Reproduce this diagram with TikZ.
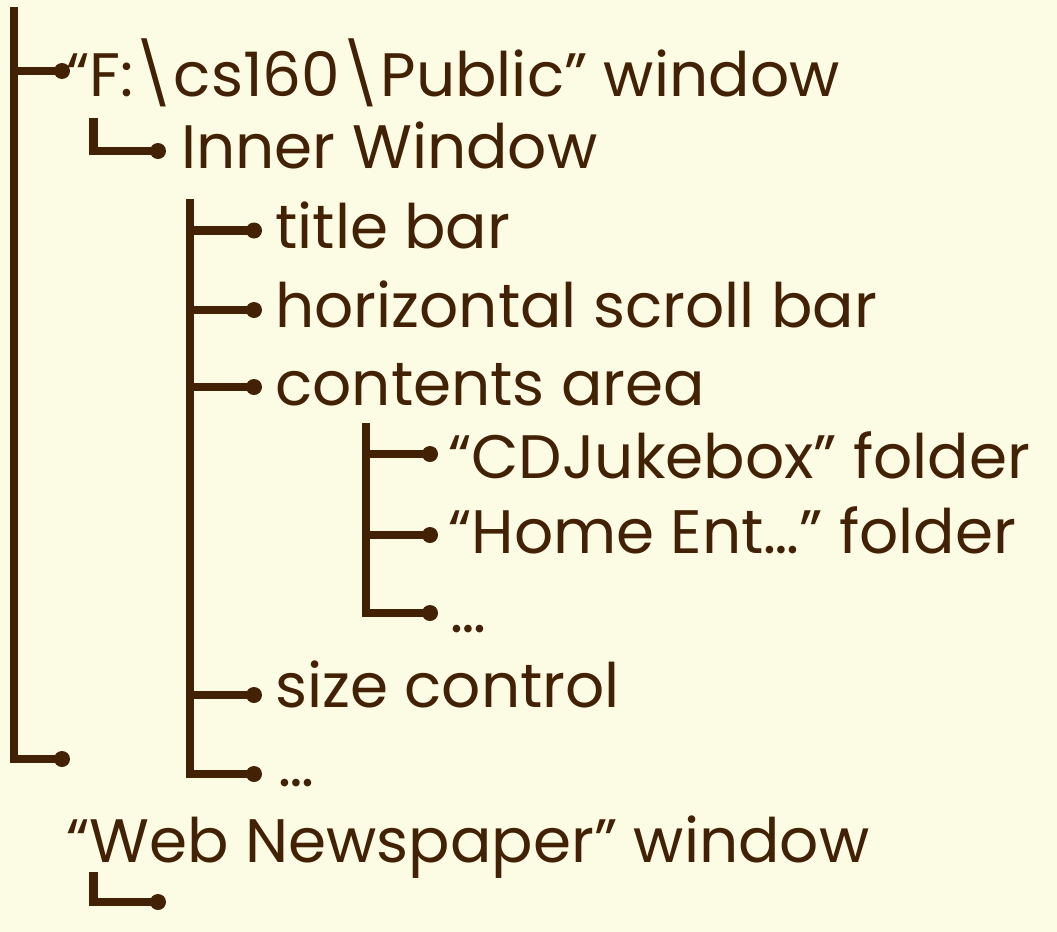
\documentclass[tikz,border=0pt]{standalone}
\usepackage{fontspec}
\setmainfont{Poppins}
\definecolor{ink}{RGB}{66,33,4}
\definecolor{paper}{RGB}{252,251,227}
\begin{document}
\begin{tikzpicture}[x=0.75pt,y=-0.75pt,
  stem/.style={draw=ink,line width=6.4pt,line join=miter},
  leaf/.style={circle,fill=ink,inner sep=0pt,minimum size=12pt},
  lbl/.style={anchor=base west,inner sep=0pt,text=ink,font=\fontsize{46}{46}\selectfont}]
\fill[paper] (0,0) rectangle (1057,932);
\useasboundingbox (0,0) rectangle (1057,932);

% top-level trunk
\coordinate (t0) at (14,7);
\node[leaf] (d1) at (62,71) {};
\node[leaf] (d2) at (62,759) {};
\draw[stem] (t0) |- (d2.center);
\draw[stem] (t0 |- d1) -- (d1.center);

% inner window branch
\coordinate (t1) at (93.5,118);
\node[leaf] (d3) at (158,151) {};
\draw[stem] (t1) |- (d3.center);

% children of the inner window
\coordinate (t2) at (190,199);
\node[leaf] (d4) at (254,230.5) {};
\node[leaf] (d5) at (254,310) {};
\node[leaf] (d6) at (254,387) {};
\node[leaf] (d7) at (254,695) {};
\node[leaf] (d8) at (254,774) {};
\draw[stem] (t2) |- (d8.center);
\foreach \d in {d4,d5,d6,d7}
  \draw[stem] (t2 |- \d) -- (\d.center);

% children of the contents area
\coordinate (t3) at (366,423);
\node[leaf] (d9) at (430,454) {};
\node[leaf] (d10) at (430,535) {};
\node[leaf] (d11) at (430,613) {};
\draw[stem] (t3) |- (d11.center);
\foreach \d in {d9,d10}
  \draw[stem] (t3 |- \d) -- (\d.center);

% second window branch
\coordinate (t4) at (93.5,872);
\node[leaf] (d12) at (158,902) {};
\draw[stem] (t4) |- (d12.center);

% labels
\node[lbl] (l1) at (66,96) {“F:\textbackslash cs160\textbackslash Public” window};
\node[lbl] (l2) at (181,168) {Inner Window};
\node[lbl] (l3) at (275,248) {title bar};
\node[lbl] (l4) at (275,327) {horizontal scroll bar};
\node[lbl] (l5) at (275,405) {contents area};
\node[lbl] (l6) at (448,478) {“CDJukebox” folder};
\node[lbl] (l7) at (448,553) {“Home Ent…” folder};
\node[lbl] (l8) at (450,632) {…};
\node[lbl] (l9) at (275,707) {size control};
\node[lbl] (l10) at (278,786) {…};
\node[lbl] (l11) at (66,862) {“Web Newspaper” window};
\node[lbl] (l12) at (276,980) {“};
\end{tikzpicture}
\end{document}
